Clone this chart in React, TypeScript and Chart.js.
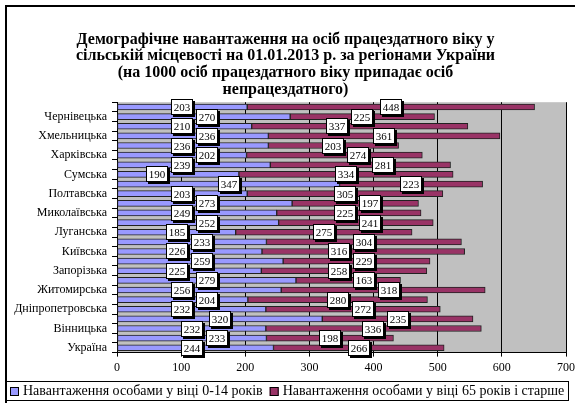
import React, { useEffect, useRef } from "react";
import { Chart, registerables } from "chart.js";

Chart.register(...registerables);

const regions = [
  "Україна", "АР Крим", "Вінницька", "Волинська", "Дніпропетровська", "Донецька",
  "Житомирська", "Закарпатська", "Запорізька", "Івано-Франківська", "Київська",
  "Кіровоградська", "Луганська", "Львівська", "Миколаївська", "Одеська", "Полтавська",
  "Рівненська", "Сумська", "Тернопільська", "Харківська", "Херсонська", "Хмельницька",
  "Черкаська", "Чернівецька", "Чернігівська",
];
const young = [244, 233, 232, 320, 232, 204, 256, 279, 225, 259, 226, 233, 185, 252, 249, 273, 203, 347, 190, 239, 202, 236, 236, 210, 270, 203];
const old = [266, 198, 336, 235, 272, 280, 318, 163, 258, 229, 316, 304, 275, 241, 225, 197, 305, 223, 334, 281, 274, 203, 361, 337, 225, 448];
const seriesNames = [
  "Навантаження особами у віці 0-14 років",
  "Навантаження особами у віці 65 років і старше",
];
const seriesColors = ["#9999FF", "#993366"];
const titleLines = [
  "Демографічне навантаження на осіб працездатного віку у",
  "сільській місцевості на 01.01.2013 р. за регіонами України",
  "(на 1000 осіб працездатного віку припадає осіб",
  "непрацездатного)",
];
const xMin = 0;
const xMax = 700;
const xStep = 100;

const FONT = "'Liberation Serif', 'Times New Roman', serif";
Chart.defaults.font.family = FONT;

const framePlugin = {
  id: "frame",
  beforeDraw(chart: any) {
    const { ctx, chartArea: a } = chart;
    ctx.save();
    ctx.fillStyle = "#ffffff";
    ctx.fillRect(0, 0, chart.width, chart.height);
    ctx.fillStyle = "#C0C0C0";
    ctx.fillRect(a.left, a.top, a.right - a.left, a.bottom - a.top);
    ctx.restore();
  },
  afterDraw(chart: any) {
    const { ctx } = chart;
    ctx.save();
    ctx.strokeStyle = "#000";
    ctx.lineWidth = 2;
    ctx.strokeRect(6, 6, chart.width + 20, chart.height + 20);

    // legend
    ctx.font = `14px ${FONT}`;
    ctx.textBaseline = "middle";
    ctx.textAlign = "left";
    const box = 9, gap = 4, itemGap = 7, pad = 4;
    const widths = seriesNames.map((s) => ctx.measureText(s).width);
    const total = widths.reduce((a, w) => a + box + gap + w, 0) + itemGap * (seriesNames.length - 1);
    const boxTop = 381, boxH = 19;
    let x = Math.round(chart.width / 2 - total / 2);
    ctx.fillStyle = "#fff";
    ctx.fillRect(x - pad, boxTop, total + pad * 2, boxH);
    ctx.lineWidth = 1;
    ctx.strokeStyle = "#000";
    ctx.strokeRect(x - pad + 0.5, boxTop + 0.5, Math.round(total + pad * 2), boxH);
    const cy = boxTop + boxH / 2 + 0.5;
    seriesNames.forEach((s, i) => {
      ctx.fillStyle = seriesColors[i];
      ctx.fillRect(x, Math.round(cy - box / 2), box, box);
      ctx.strokeStyle = "#000";
      ctx.strokeRect(x + 0.5, Math.round(cy - box / 2) + 0.5, box - 1, box - 1);
      ctx.fillStyle = "#000";
      ctx.fillText(s, x + box + gap, cy);
      x += box + gap + widths[i] + itemGap;
    });
    ctx.restore();
  },
};

const labelPlugin = {
  id: "boxLabels",
  afterDatasetsDraw(chart: any) {
    const { ctx } = chart;
    ctx.save();
    ctx.font = `11px ${FONT}`;
    ctx.textAlign = "center";
    ctx.textBaseline = "middle";
    const placed: { x: number; y: number; w: number; h: number }[] = [];
    const h = 16;
    const overlaps = (x: number, y: number, w: number) =>
      placed.some((p) => x < p.x + p.w + 3 && x + w + 3 > p.x && y < p.y + p.h + 1 && y + h + 1 > p.y);
    const n = regions.length;
    for (let i = n - 1; i >= 0; i--) {
      for (let ds = 0; ds < 2; ds++) {
        const el: any = chart.getDatasetMeta(ds).data[i];
        if (!el) continue;
        const p = el.getProps(["x", "y", "base"], true);
        const val = chart.data.datasets[ds].data[i];
        const txt = String(val);
        const w = Math.ceil(ctx.measureText(txt).width) + 5;
        const cx = (p.x + p.base) / 2;
        const y = Math.round(p.y - h / 2);
        let bx = Math.round(cx - w / 2);
        for (let d = 0; d < 120; d++) {
          if (!overlaps(bx + d, y, w)) { bx = bx + d; break; }
          if (!overlaps(bx - d, y, w)) { bx = bx - d; break; }
        }
        placed.push({ x: bx, y, w, h });
        ctx.fillStyle = "#000";
        ctx.fillRect(bx + 2, y + 2, w, h);
        ctx.fillStyle = "#fff";
        ctx.fillRect(bx, y, w, h);
        ctx.strokeStyle = "#000";
        ctx.lineWidth = 1;
        ctx.strokeRect(bx + 0.5, y + 0.5, w - 1, h - 1);
        ctx.fillStyle = "#000";
        ctx.fillText(txt, bx + w / 2, y + h / 2 + 1);
      }
    }
    ctx.restore();
  },
};

export default function App() {
  const ref = useRef<HTMLCanvasElement | null>(null);
  useEffect(() => {
    document.body.style.margin = "0";
    if (!ref.current) return;
    const chart = new Chart(ref.current, {
      type: "bar",
      data: {
        labels: regions,
        datasets: [
          {
            label: seriesNames[0],
            data: young,
            backgroundColor: seriesColors[0],
            borderColor: "#222",
            borderWidth: 1,
            borderSkipped: false,
            barThickness: 6,
          },
          {
            label: seriesNames[1],
            data: old,
            backgroundColor: seriesColors[1],
            borderColor: "#222",
            borderWidth: 1,
            borderSkipped: false,
            barThickness: 6,
          },
        ],
      },
      options: {
        indexAxis: "y",
        animation: false,
        responsive: true,
        maintainAspectRatio: false,
        font: { family: FONT },
        layout: { padding: { left: 5, right: 9, top: 0, bottom: 24 } },
        plugins: {
          title: {
            display: true,
            text: titleLines,
            color: "#000",
            font: { family: FONT, size: 16, weight: "bold", lineHeight: 1.05 },
            padding: { top: 31, bottom: 4 },
          },
          legend: { display: false },
          tooltip: { enabled: false },
        },
        scales: {
          x: {
            stacked: true,
            min: xMin,
            max: xMax,
            ticks: { stepSize: xStep, color: "#000", font: { family: FONT, size: 12 }, padding: 4 },
            grid: { color: "#000", tickLength: 4 },
            border: { color: "#000" },
            afterFit: (s: any) => { s.paddingLeft = 0; s.paddingRight = 0; },
          },
          y: {
            stacked: true,
            reverse: true,
            ticks: {
              autoSkip: false,
              color: "#000",
              font: { family: FONT, size: 12 },
              padding: 5,
              callback: (v: any) => (Number(v) % 2 === 0 ? regions[Number(v)] : ""),
            },
            grid: { drawOnChartArea: false, drawTicks: true, tickLength: 5, color: "#000", offset: true },
            border: { color: "#000" },
            afterFit: (s: any) => { s.width = 112; },
          },
        },
      },
      plugins: [framePlugin, labelPlugin],
    });
    return () => chart.destroy();
  }, []);
  return (
    <div style={{ width: 575, height: 403, position: "relative" }}>
      <canvas ref={ref} />
    </div>
  );
}
